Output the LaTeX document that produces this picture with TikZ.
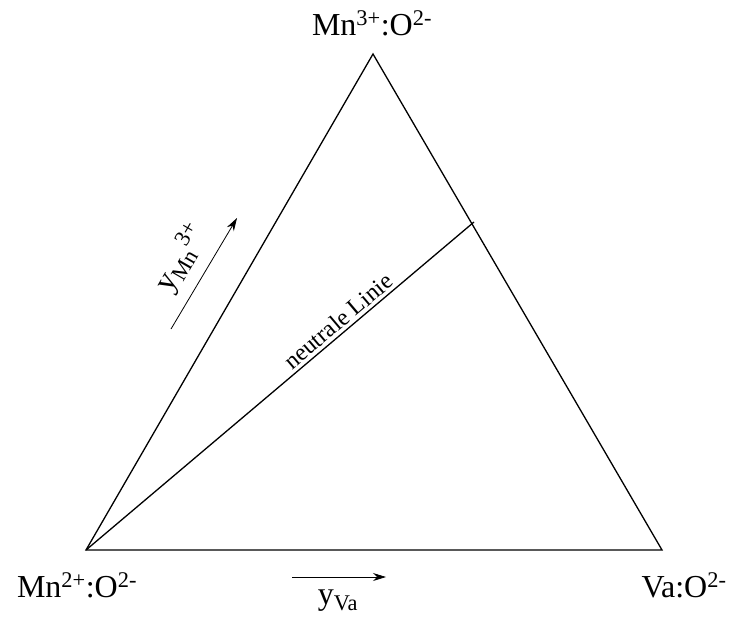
\documentclass[tikz,border=0pt]{standalone}
\usepackage{fontspec}
\setmainfont{Liberation Serif}
\usetikzlibrary{arrows.meta,positioning}
\tikzset{
    edge/.style={draw, line width=1.3pt, line join=miter},
    corner/.style={font=\fontsize{32}{36}\selectfont, inner sep=0pt, anchor=base},
    axislbl/.style={font=\fontsize{32}{36}\selectfont, inner sep=0pt},
    linelbl/.style={font=\fontsize{24}{28}\selectfont, inner sep=3pt},
}
\begin{document}
\begin{tikzpicture}[
    x=1pt, y=-1pt,
    arr/.style={-{Stealth[length=13pt,width=8pt]}, line width=0.8pt},
]
    \useasboundingbox (0,0) rectangle (733,622);
    % corners of the triangle
    \coordinate (mn2) at (86,550);
    \coordinate (va) at (662,550);
    \coordinate (mn3) at (373,54);
    \coordinate (neut) at (474,222);
    \draw[edge] (mn2) -- (va) -- (mn3) -- cycle;
    \draw[edge] (mn2) -- (neut) node[linelbl, pos=0.67, above, sloped] {neutrale Linie};
    % corner labels
    \node[corner] (top) at (372,35) {Mn\textsuperscript{3+}:O\textsuperscript{2-}};
    \node[corner] (left) at (77,597) {Mn\textsuperscript{2+}:O\textsuperscript{2-}};
    \node[corner] (right) at (684,597) {Va:O\textsuperscript{2-}};
    % composition arrows
    \coordinate (vaS) at (292,577);
    \coordinate (vaE) at (386,577);
    \draw[arr] (vaS) -- (vaE);
    \node[axislbl, anchor=base] (yva) at (338,604) {y\textsubscript{Va}};
    \coordinate (mnS) at (171,329);
    \coordinate (mnE) at (237,218);
    \draw[arr] (mnS) -- (mnE);
    \node[axislbl, rotate=60] (ymn) at (181,258) {y\textsubscript{Mn}\textsuperscript{3+}};
\end{tikzpicture}
\end{document}
